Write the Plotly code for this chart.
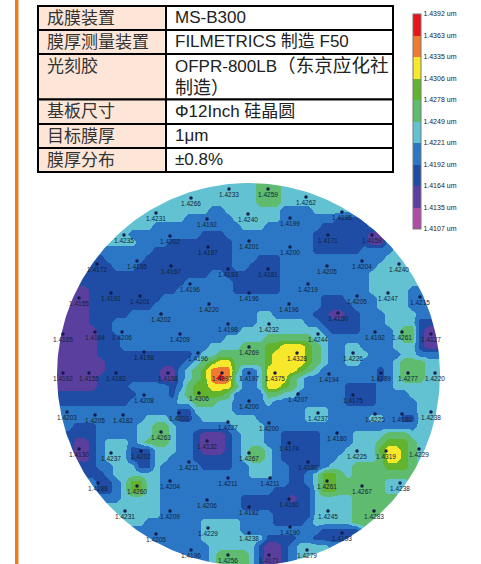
import numpy as np
import plotly.graph_objects as go

table_left = ["成膜装置", "膜厚测量装置", "光刻胶", "基板尺寸", "目标膜厚", "膜厚分布"]
table_right = ["MS-B300", "FILMETRICS 制造 F50",
               "OFPR-800LB<span style='font-size:18.6px'>（东京应化社</span><br><span style='font-size:18px'>制造）</span>",
               "Φ12Inch 硅晶圆", "1μm", "±0.8%"]

scale_ticks = [1.4107, 1.4135, 1.4164, 1.4192, 1.4221, 1.4249, 1.4278, 1.4306, 1.4335, 1.4363, 1.4392]
scale_colors = ["#B04CA5", "#5B3F9E", "#1F4DA5", "#2B77C5", "#62C2D2",
                "#5FBB6E", "#62B32E", "#F6E92B", "#EE7B30", "#E8141C"]

# thickness class of each map cell, row by row ("first-last:class")
map_rows = [
"0-24:4 25-27:5 28-47:4",
"0-24:4 25-27:5 28-47:4",
"0-24:4 25-27:5 28-47:4",
"0-18:4 19-20:3 21-27:4 28-31:3 32-47:4",
"0-15:4 16-21:3 22-27:4 28-34:3 35-37:2 38-47:3",
"0-11:4 12-22:3 23-25:4 26-32:3 33-38:2 39-47:3",
"0-8:4 9-17:3 18-20:2 21-31:3 32-38:2 39-40:1 41-47:3",
"0-9:4 10-13:3 14-21:2 22-31:3 32-38:2 39-40:1 41-47:3",
"0-11:3 12-21:2 22-31:3 32-37:2 38-41:3 42-47:4",
"0-5:2 6-10:3 11-21:2 22-24:3 25-27:2 28-40:3 41-47:4",
"0-6:2 7-9:3 10-21:2 22-23:3 24-27:2 28-39:3 40-47:4",
"0-18:2 19-20:3 21-27:2 28-38:3 39-47:4",
"0-15:2 16-21:3 22-27:2 28-38:3 39-47:4",
"0-3:1 4-14:2 15-21:3 22-27:2 28-38:3 39-43:4 44-47:3",
"0-3:1 4-12:2 13-32:3 33-35:2 36-39:3 40-43:4 44-47:3",
"0-3:1 4-11:2 12-32:3 33-36:2 37-39:3 40-43:4 44-47:3",
"0-3:1 4-8:2 9-24:3 25-26:4 27-31:3 32-33:2 34-35:1 36-37:2 38-40:3 41-44:4 45-47:3",
"0-3:1 4-6:2 7-24:3 25-30:4 31-32:3 33-37:2 38-40:3 41-44:4 45-47:2",
"0-4:1 5-6:2 7-22:3 23-32:4 33:3 34-37:2 38-41:3 42:4 43-44:5 45:2 46-47:1",
"0-4:1 5-7:2 8-20:3 21-25:4 26-31:5 32-33:4 34-41:3 42:4 43-44:5 45:2 46-47:1",
"0-4:1 5-7:2 8-18:3 19-22:4 23-25:5 26-27:6 28-30:7 31:6 32:5 33:4 34-35:3 36-37:4 38-41:3 42-44:4 45:2 46-47:1",
"0-4:1 5-16:2 17:3 18-19:4 20-25:5 26:6 27-30:7 31:6 32:5 33:4 34-35:3 36-38:4 39-42:3 43-44:4 45-47:3",
"0-5:1 6-15:2 16:3 17:4 18:5 19:6 20-21:7 22-25:5 26:6 27-30:7 31:6 32:5 33:4 34-35:3 36-37:4 38-41:3 42:4 43-45:5 46-47:4",
"0-5:1 6-12:2 13-14:1 15:3 16:4 17:5 18:6 19:8 20-21:8 22:5 23-24:3 25:4 26-29:7 30:6 31:5 32:4 33-39:3 40:2 41:3 42:4 43-45:5 46-47:4",
"0-4:1 5-12:2 13-14:1 15:3 16:4 17:5 18:6 19:8 20:9 21:8 22:4 23-24:3 25:4 26-28:7 29:5 30:4 31-39:3 40:2 41:3 42:4 43-45:5 46-47:4",
"0-4:1 5-8:2 9-13:3 14:2 15:3 16:5 17-18:6 19-21:7 22:5 23-24:3 25:4 26-27:7 28:6 29:5 30:4 31-35:3 36-39:2 40-41:3 42-47:4",
"0-9:2 10-13:3 14:2 15:4 16:5 17-20:6 21:5 22-25:3 26-27:5 28-29:4 30-35:3 36-39:2 40-43:3 44-47:4",
"0-8:2 9-14:3 15-16:4 17-19:5 20-21:4 22-25:3 26:4 27-35:3 36-39:2 40-44:3 45-47:4",
"0-14:3 15-16:2 17-21:4 22-30:3 31-33:4 34-44:3 45-47:4",
"0-10:3 11-13:4 14:3 15-16:2 17:3 18-24:4 25-30:3 31-33:4 34-38:3 39-40:4 41-42:3 43-44:2 45-47:4",
"0-1:3 2-4:2 5-9:3 10-11:4 12-13:5 14:4 15-21:3 22-25:4 26-44:3 45-47:4",
"0-4:2 5-9:3 10-11:4 12-13:5 14:4 15-16:3 17:2 18-20:1 21:2 22:3 23-25:4 26-27:3 28-32:2 33-36:3 37-40:4 41-43:5 44-47:4",
"0-1:3 2-3:1 4:2 5:3 6-8:4 9:3 10:4 11-13:5 14:4 15-16:3 17:2 18-20:1 21:2 22:3 23-25:4 26-27:3 28-32:2 33-36:3 37-39:4 40:5 41-43:6 44:5 45-47:4",
"0-1:3 2-3:1 4:2 5:3 6-8:4 9-11:2 12-14:4 15-16:3 17:2 18-20:1 21:2 22:3 23:4 24-25:5 26:4 27:3 28-32:2 33-35:3 36-39:4 40:6 41-42:7 43:6 44:5 45-47:4",
"0-1:3 2-3:1 4:2 5:3 6-8:4 9-11:2 12-13:4 14-16:3 17-21:2 22:3 23:4 24-25:5 26:4 27:3 28-32:2 33-34:3 35-39:4 40:5 41-42:7 43:6 44:5 45-47:4",
"0-2:3 3-4:2 5-6:3 7-9:4 10-11:2 12:4 13-17:3 18-21:2 22-23:3 24-26:4 27-28:3 29-32:2 33:3 34-36:4 37-40:5 41-43:6 44:5 45-47:4",
"0-2:3 3-5:2 6:3 7-12:4 13-23:3 24-26:4 27-28:3 29-30:2 31:3 32:4 33-34:6 35:5 36:4 37-44:5 45-47:4",
"0-4:3 5-6:2 7:3 8:4 9-10:6 11-12:4 13-28:3 29-30:2 31:3 32:4 33-34:6 35-40:5 41-43:4 44:5 45-47:4",
"0-4:3 5-6:2 7:3 8:4 9-10:6 11-12:4 13-26:3 27-31:2 32:4 33-34:6 35-40:5 41-47:4",
"0-7:3 8-12:4 13-22:3 23-28:2 29:1 30-31:2 32-36:4 37-42:5 43-47:4",
"0-12:4 13-22:3 23-31:2 32-36:4 37-47:5",
"0-12:4 13-26:3 27-31:2 32-36:4 37-47:5",
"0-10:4 11-17:3 18-22:4 23-26:3 27-30:2 31:3 32-36:4 37-47:5",
"0-17:3 18-22:4 23-32:3 33-37:2 38-47:4",
"0-17:3 18-25:4 26-29:2 30-31:3 32-36:2 37-47:4",
"0-18:3 19-24:4 25:2 26-27:1 28:2 29:3 30-33:4 34-47:3",
"0-18:3 19:4 20-23:5 24:4 25:2 26-27:1 28:2 29:3 30-47:4",
"0-18:3 19:4 20-23:5 24:4 25:2 26-27:1 28:2 29:3 30-47:4",
]

point_x = [191,229,156,207,124,170,208,97,137,171,228,79,111,140,190,209,161,63,95,122,180,228,144,198,
           268,306,248,290,342,328,372,249,290,268,327,362,399,308,249,357,388,420,289,338,269,318,375,402,431,249,353,297,
           63,89,116,168,222,144,199,67,95,123,179,228,161,207,79,111,141,189,170,228,98,137,207,125,170,208,156,191,228,
           249,275,329,381,408,435,298,353,249,318,375,402,431,269,337,289,357,386,419,249,308,270,327,362,400,289,249,328,374,290,249,342,307,269]
point_y = [198,189,213,219,235,236,247,264,261,266,269,298,293,296,284,304,314,334,332,332,334,324,352,353,
           189,197,214,218,212,235,235,241,247,269,266,261,264,284,293,296,293,297,304,313,324,334,332,332,334,347,353,353,
           373,373,373,373,373,395,393,412,415,415,413,422,432,441,449,453,451,462,481,478,483,486,500,511,511,528,534,550,555,
           373,373,374,373,373,373,394,395,401,413,414,414,412,423,433,443,451,451,449,453,462,478,481,486,483,499,507,511,511,527,533,533,550,555]
point_labels = ["1.4266","1.4233","1.4231","1.4192","1.4235","1.4202","1.4187","1.4172","1.4195","1.4167","1.4193","1.4155","1.4191","1.4201","1.4196","1.4220","1.4202","1.4165","1.4164","1.4206","1.4209","1.4198","1.4198","1.4196",
                "1.4259","1.4262","1.4240","1.4199","1.4195","1.4171","1.4159","1.4201","1.4200","1.4181","1.4205","1.4204","1.4240","1.4219","1.4196","1.4205","1.4247","1.4215","1.4196","1.4150","1.4232","1.4244","1.4192","1.4261","1.4127","1.4269","1.4226","1.4328",
                "1.4162","1.4155","1.4182","1.4158","1.4397","1.4208","1.4306","1.4203","1.4205","1.4182","1.4203","1.4227","1.4263","1.4132","1.4130","1.4237","1.4202","1.4211","1.4204","1.4211","1.4188","1.4260","1.4206","1.4231","1.4209","1.4229","1.4205","1.4196","1.4256",
                "1.4197","1.4375","1.4194","1.4189","1.4277","1.4220","1.4207","1.4175","1.4200","1.4237","1.4225","1.4180","1.4238","1.4200","1.4180","1.4174","1.4225","1.4319","1.4229","1.4267","1.4180","1.4211","1.4261","1.4267","1.4238","1.4160","1.4182","1.4245","1.4283","1.4190","1.4238","1.4193","1.4279","1.4171"]

W, H = 481, 564
cx, cy, r = 248.5, 374.5, 191.5
FONT = "Liberation Sans, Noto Sans CJK SC, sans-serif"
ROW_LINES = [6, 30, 54, 99.5, 124, 148, 172]
COL_LINES = [38, 166, 393]

z = []
for row in map_rows:
    cells = [None] * 48
    for seg in row.split():
        span, lev = seg.split(":")
        a, b = (span.split("-") + [span])[:2]
        for i in range(int(a), int(b) + 1):
            cells[i] = (scale_ticks[int(lev)] + scale_ticks[int(lev) + 1]) / 2
    z.append(cells)

zmin, zmax = scale_ticks[0], scale_ticks[-1]
colorscale = []
for i, c in enumerate(scale_colors):
    colorscale.append([(scale_ticks[i] - zmin) / (zmax - zmin), c])
    colorscale.append([(scale_ticks[i + 1] - zmin) / (zmax - zmin), c])

fig = go.Figure()
fig.add_trace(go.Heatmap(
    z=z, x0=60, dx=8, y0=186, dy=8, zmin=zmin, zmax=zmax, colorscale=colorscale,
    zsmooth="best", hoverinfo="skip",
    colorbar=dict(
        xref="paper", yref="paper", x=413 / W, xanchor="left", y=1 - 14 / H, yanchor="top",
        thicknessmode="pixels", thickness=8, lenmode="pixels", len=215, xpad=0, ypad=0,
        outlinecolor="#777777", outlinewidth=1, borderwidth=0, ticks="",
        tickvals=scale_ticks, ticktext=[f"{t:.4f} um" for t in scale_ticks],
        tickfont=dict(size=7, color="#222222", family=FONT),
    ),
))

# white surround with a round opening gives the wafer its smooth edge
t = np.linspace(0, 2 * np.pi, 361)
mx = [56, 440, 440, 56, 56, cx - r] + list(cx - r * np.cos(t)) + [56]
my = [182, 182, 566, 566, cy, cy] + list(cy + r * np.sin(t)) + [cy]
fig.add_trace(go.Scatter(x=mx, y=my, mode="lines", fill="toself", fillcolor="white",
                         line=dict(width=0), hoverinfo="skip", showlegend=False))

fig.add_trace(go.Scatter(
    x=point_x, y=point_y, mode="markers+text", text=point_labels, textposition="bottom center",
    marker=dict(size=3.5, color="#101c4a"), textfont=dict(size=6.5, color="#12243a", family=FONT),
    hoverinfo="skip", showlegend=False, cliponaxis=False,
))

# table drawn as real cells and real text
for j, (lt, rt) in enumerate(zip(table_left, table_right)):
    y0, y1 = ROW_LINES[j], ROW_LINES[j + 1]
    fig.add_shape(type="rect", x0=COL_LINES[0], x1=COL_LINES[1], y0=y0, y1=y1,
                  fillcolor="#FDE6D8", line=dict(color="black", width=2))
    fig.add_shape(type="rect", x0=COL_LINES[1], x1=COL_LINES[2], y0=y0, y1=y1,
                  fillcolor="white", line=dict(color="black", width=2))
    two_lines = "<br>" in rt
    fig.add_annotation(x=45, y=(y0 + 12 if two_lines else (y0 + y1) / 2), text=lt, showarrow=False,
                       xanchor="left", yanchor="middle", font=dict(size=17, color="#333333", family=FONT))
    fig.add_annotation(x=173, y=(y0 + y1) / 2 - 0.5, text=rt, showarrow=False, align="left",
                       xanchor="left", yanchor="middle", font=dict(size=17, color="#222222", family=FONT))

fig.add_shape(type="rect", xref="x", yref="y", x0=15, x1=18.5, y0=0, y1=564,
              fillcolor="#E97C1E", line=dict(width=0))

fig.update_xaxes(range=[0, W], visible=False, domain=[0, 1])
fig.update_yaxes(range=[H, 0], visible=False, domain=[0, 1])
fig.update_layout(width=W, height=H, margin=dict(l=0, r=0, t=0, b=0),
                  paper_bgcolor="white", plot_bgcolor="white", showlegend=False)
fig.write_html("out.html", config={"displayModeBar": False},
               post_script="document.body.style.margin='0';")
